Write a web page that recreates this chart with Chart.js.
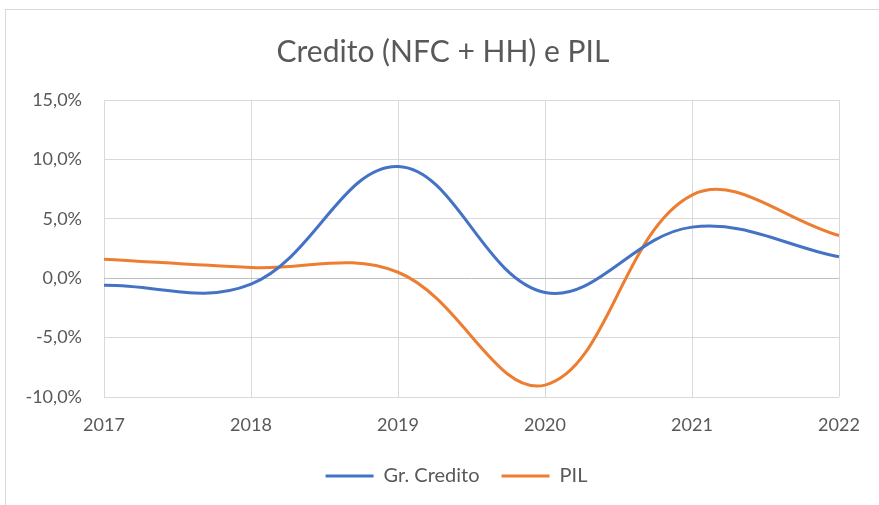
<!DOCTYPE html>
<html>
<head>
<meta charset="utf-8">
<script src="https://cdn.jsdelivr.net/npm/chart.js@4.4.1/dist/chart.umd.min.js"></script>
<style>
  html, body { margin: 0; padding: 0; background: #fff; }
  #wrap { position: relative; width: 879px; height: 505px; }
  #frame { position: absolute; left: 5px; top: 9px; width: 880px; height: 500px; border: 1px solid #d9d9d9; box-sizing: border-box; }
  canvas { position: absolute; left: 0; top: 0; }
</style>
</head>
<body>
<div id="wrap">
  <div id="frame"></div>
  <canvas id="chart" width="879" height="505"></canvas>
</div>
<script>
// Data (annual growth, %)
const years = ['2017', '2018', '2019', '2020', '2021', '2022'];
const credito = [-0.6, -0.5, 9.4, -1.2, 4.3, 1.8];
const pil = [1.6, 0.9, 0.5, -9.0, 7.0, 3.6];
const yTicks = [-10, -5, 0, 5, 10, 15];

const textColor = '#595959';
const fontFamily = 'Lato, "Open Sans", sans-serif';

function fmtPct(v) {
    return v.toFixed(1).replace('.', ',') + '%';
}

// nudge title and legend so they sit centred like the original
const shiftBoxes = {
    id: 'shiftBoxes',
    afterLayout(chart) {
        chart.titleBlock.left += 47;
        chart.legend.left += 74;
    }
};

const ctx = document.getElementById('chart').getContext('2d');
const chart = new Chart(ctx, {
    type: 'line',
    data: {
        labels: years,
        datasets: [
            {
                label: 'Gr. Credito',
                data: credito,
                borderColor: '#4472C4',
                backgroundColor: '#4472C4',
                borderWidth: 3,
                pointRadius: 0,
                tension: 0.38,
                fill: false
            },
            {
                label: 'PIL',
                data: pil,
                borderColor: '#ED7D31',
                backgroundColor: '#ED7D31',
                borderWidth: 3,
                pointRadius: 0,
                tension: 0.38,
                fill: false
            }
        ]
    },
    options: {
        responsive: false,
        animation: false,
        devicePixelRatio: 1,
        layout: { padding: { left: 0, right: 40, top: 22, bottom: 9 } },
        scales: {
            x: {
                offset: false,
                afterFit: (axis) => { axis.height = 47; },
                grid: { color: '#d9d9d9', lineWidth: 1, drawTicks: false },
                border: { display: false },
                ticks: { color: textColor, font: { family: fontFamily, size: 18 }, padding: 17, maxRotation: 0 }
            },
            y: {
                min: yTicks[0],
                max: yTicks[yTicks.length - 1],
                afterBuildTicks: (axis) => { axis.ticks = yTicks.map(v => ({ value: v })); },
                afterFit: (axis) => { axis.width = 104; },
                grid: {
                    color: (c) => c.tick && c.tick.value === 0 ? '#bfbfbf' : '#d9d9d9',
                    lineWidth: 1,
                    drawTicks: false
                },
                border: { display: false },
                ticks: {
                    color: textColor,
                    font: { family: fontFamily, size: 18 },
                    padding: 22,
                    callback: (v) => fmtPct(v)
                }
            }
        },
        plugins: {
            title: {
                display: true,
                text: 'Credito (NFC + HH) e PIL',
                color: textColor,
                font: { family: fontFamily, size: 30, weight: 'normal' },
                padding: { top: 12, bottom: 30 }
            },
            legend: {
                position: 'bottom',
                labels: {
                    usePointStyle: true,
                    pointStyle: 'line',
                    pointStyleWidth: 48,
                    color: textColor,
                    font: { family: fontFamily, size: 20 },
                    padding: 22
                }
            },
            tooltip: { enabled: false }
        }
    },
    plugins: [shiftBoxes]
});
</script>
</body>
</html>
